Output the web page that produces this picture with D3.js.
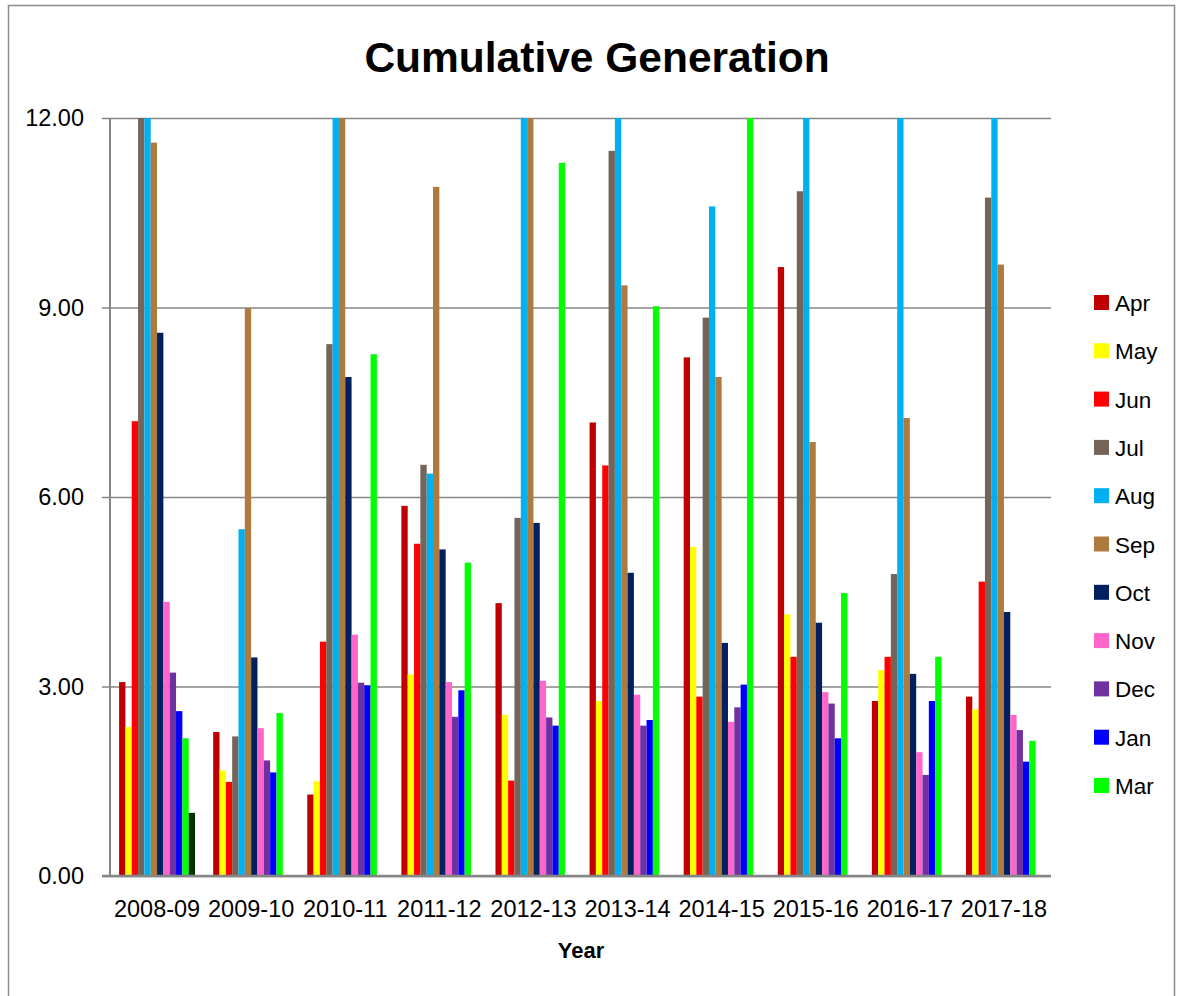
<!DOCTYPE html>
<html>
<head>
<meta charset="utf-8">
<script src="https://cdn.jsdelivr.net/npm/d3@7"></script>
<style>
  html, body { margin: 0; padding: 0; background: #fff; }
  svg { display: block; }
</style>
</head>
<body>
<svg id="chart" width="1182" height="996"></svg>
<script>
// ---- data ----
const years = ["2008-09","2009-10","2010-11","2011-12","2012-13","2013-14","2014-15","2015-16","2016-17","2017-18"];
const seriesNames = ["Apr","May","Jun","Jul","Aug","Sep","Oct","Nov","Dec","Jan","Mar","Feb"];
const legendNames = ["Apr","May","Jun","Jul","Aug","Sep","Oct","Nov","Dec","Jan","Mar"];
const seriesColors = ["#C00000","#FFFF00","#FF0000","#756559","#00B0F0","#AF7A3D","#002060","#FF66CC","#7030A0","#0000FF","#00FF00","#003300"];
const yTicks = [0, 3, 6, 9, 12];

// values per series (one per year); values above 12 run off the axis maximum
const Apr = [3.07, 2.28, 1.29, 5.86, 4.32, 7.18, 8.21, 9.64, 2.77, 2.84];
const May = [2.36, 1.67, 1.50, 3.19, 2.55, 2.77, 5.21, 4.14, 3.26, 2.64];
const Jun = [7.20, 1.49, 3.71, 5.26, 1.51, 6.50, 2.84, 3.47, 3.47, 4.66];
const Jul = [12.6, 2.21, 8.42, 6.51, 5.67, 11.48, 8.84, 10.84, 4.78, 10.74];
const Aug = [12.8, 5.49, 13.0, 6.37, 12.9, 12.4, 10.60, 12.7, 12.5, 12.6];
const Sep = [11.61, 8.99, 12.3, 10.91, 12.2, 9.35, 7.90, 6.87, 7.25, 9.68];
const Oct = [8.60, 3.46, 7.90, 5.17, 5.59, 4.80, 3.69, 4.01, 3.20, 4.18];
const Nov = [4.34, 2.34, 3.82, 3.07, 3.09, 2.87, 2.44, 2.91, 1.96, 2.55];
const Dec = [3.22, 1.83, 3.06, 2.52, 2.51, 2.38, 2.67, 2.73, 1.60, 2.31];
const Jan = [2.61, 1.64, 3.02, 2.94, 2.38, 2.47, 3.03, 2.18, 2.77, 1.81];
const Mar = [2.18, 2.58, 8.26, 4.96, 11.29, 9.02, 12.4, 4.48, 3.47, 2.14];
const Feb = [1.00, 0, 0, 0, 0, 0, 0, 0, 0, 0];
const seriesValues = [Apr, May, Jun, Jul, Aug, Sep, Oct, Nov, Dec, Jan, Mar, Feb];

// ---- layout ----
const svg = d3.select("#chart");
const plot = { left: 110, right: 1051, top: 118, bottom: 876 };
const FONT = "'Liberation Sans', Arial, sans-serif";

// outer frame
svg.append("rect")
  .attr("x", 8.5).attr("y", 5.5)
  .attr("width", 1166).attr("height", 1010)
  .attr("fill", "none").attr("stroke", "#8c8c8c").attr("stroke-width", 1.5);

const x0 = d3.scaleBand().domain(years)
  .range([plot.left, plot.right])
  .paddingInner(0.193).paddingOuter(0.0965);
const x1 = d3.scaleBand().domain(seriesNames).range([0, x0.bandwidth()]).padding(0);
const y = d3.scaleLinear().domain([0, 12]).range([plot.bottom, plot.top]).clamp(true);

// gridlines + y ticks
const yAxis = d3.axisLeft(y).tickValues(yTicks).tickFormat(d3.format(".2f"))
  .tickSize(-(plot.right - plot.left)).tickPadding(26);
const gy = svg.append("g").attr("transform", `translate(${plot.left},0)`).call(yAxis);
gy.select(".domain").remove();
gy.selectAll(".tick line").attr("stroke", "#868686").attr("stroke-width", 1.5)
  .attr("x1", -8);
gy.selectAll(".tick text")
  .attr("font-family", FONT)
  .attr("font-size", 23.5).attr("fill", "#000");

// bars
const data = [];
years.forEach((yr, i) => {
  seriesNames.forEach((s, j) => {
    data.push({ year: yr, series: s, value: seriesValues[j][i], color: seriesColors[j] });
  });
});
svg.append("g").selectAll("rect").data(data).join("rect")
  .attr("x", d => x0(d.year) + x1(d.series))
  .attr("width", x1.bandwidth())
  .attr("y", d => y(d.value))
  .attr("height", d => y(0) - y(d.value))
  .attr("fill", d => d.color);

// axis lines
svg.append("line")
  .attr("x1", plot.left).attr("x2", plot.left)
  .attr("y1", plot.top).attr("y2", plot.bottom)
  .attr("stroke", "#868686").attr("stroke-width", 2);
svg.append("line")
  .attr("x1", plot.left - 8).attr("x2", plot.right)
  .attr("y1", plot.bottom).attr("y2", plot.bottom)
  .attr("stroke", "#868686").attr("stroke-width", 2.5);

// x axis labels
const xAxis = d3.axisBottom(x0).tickSize(0).tickPadding(24);
const gx = svg.append("g").attr("transform", `translate(0,${plot.bottom})`).call(xAxis);
gx.select(".domain").remove();
gx.selectAll(".tick text")
  .attr("font-family", FONT)
  .attr("font-size", 23.5).attr("fill", "#000");

// title
svg.append("text")
  .attr("x", 597).attr("y", 72)
  .attr("text-anchor", "middle")
  .attr("font-family", FONT)
  .attr("font-weight", "bold").attr("font-size", 42.5)
  .text("Cumulative Generation");

// x axis title
svg.append("text")
  .attr("x", 581).attr("y", 958)
  .attr("text-anchor", "middle")
  .attr("font-family", FONT)
  .attr("font-weight", "bold").attr("font-size", 22)
  .text("Year");

// legend
const legend = svg.append("g");
legendNames.forEach((name, i) => {
  const cy = 302.5 + i * 48.3;
  legend.append("rect")
    .attr("x", 1094).attr("y", cy - 7.5)
    .attr("width", 15).attr("height", 15)
    .attr("fill", seriesColors[seriesNames.indexOf(name)]);
  legend.append("text")
    .attr("x", 1115).attr("y", cy + 8.5)
    .attr("font-family", FONT)
    .attr("font-size", 22.5).attr("fill", "#000")
    .text(name);
});
</script>
</body>
</html>
